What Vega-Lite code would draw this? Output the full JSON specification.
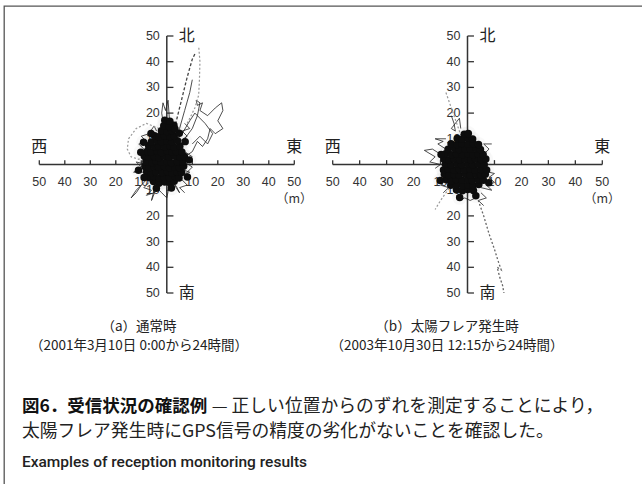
{
  "$schema": "https://vega.github.io/schema/vega-lite/v6.json",
  "width": 642,
  "height": 484,
  "autosize": {"type": "fit", "contains": "padding"},
  "padding": {"left": 4, "top": 6, "right": -4, "bottom": -4},
  "background": "white",
  "config": {"view": {"stroke": "#555", "strokeWidth": 1.3}, "text": {"font": "Liberation Sans"}},
  "datasets": {
    "pts": [
      {"p":"a","x":-5.2,"y":-6.6},{"p":"a","x":-3.1,"y":-7.3},{"p":"a","x":-0.8,"y":-6.8},{"p":"a","x":1.3,"y":-7.2},{"p":"a","x":2.9,"y":-6.5},
      {"p":"a","x":-6.8,"y":-5.2},{"p":"a","x":-5.1,"y":-4.7},{"p":"a","x":-2.9,"y":-5.3},{"p":"a","x":-1.2,"y":-4.8},{"p":"a","x":0.9,"y":-5.1},{"p":"a","x":3.2,"y":-4.7},{"p":"a","x":4.8,"y":-5.3},
      {"p":"a","x":-7.9,"y":-2.8},{"p":"a","x":-6.1,"y":-3.2},{"p":"a","x":-4.2,"y":-2.9},{"p":"a","x":-1.8,"y":-3.1},{"p":"a","x":0.2,"y":-2.7},{"p":"a","x":2.1,"y":-3.3},{"p":"a","x":3.9,"y":-2.8},{"p":"a","x":5.8,"y":-3.1},
      {"p":"a","x":-8.6,"y":-0.8},{"p":"a","x":-6.8,"y":-1.2},{"p":"a","x":-5.1,"y":-0.7},{"p":"a","x":-3.2,"y":-1.1},{"p":"a","x":-0.9,"y":-0.8},{"p":"a","x":1.1,"y":-1.3},{"p":"a","x":3.2,"y":-0.9},{"p":"a","x":4.9,"y":-1.2},{"p":"a","x":6.6,"y":-0.7},
      {"p":"a","x":-8.2,"y":1.1},{"p":"a","x":-5.9,"y":0.8},{"p":"a","x":-4.1,"y":1.3},{"p":"a","x":-2.2,"y":0.9},{"p":"a","x":0.1,"y":1.2},{"p":"a","x":1.8,"y":0.7},{"p":"a","x":4.2,"y":1.1},{"p":"a","x":6.3,"y":0.9},
      {"p":"a","x":-8.8,"y":3.2},{"p":"a","x":-7.1,"y":2.8},{"p":"a","x":-4.9,"y":3.1},{"p":"a","x":-3.1,"y":2.7},{"p":"a","x":-1.1,"y":3.3},{"p":"a","x":0.9,"y":2.9},{"p":"a","x":3.1,"y":3.2},{"p":"a","x":5.2,"y":2.8},{"p":"a","x":6.9,"y":3.1},
      {"p":"a","x":-7.8,"y":5.1},{"p":"a","x":-6.2,"y":4.8},{"p":"a","x":-3.9,"y":5.3},{"p":"a","x":-2.1,"y":4.7},{"p":"a","x":0.2,"y":5.2},{"p":"a","x":2.1,"y":4.8},{"p":"a","x":3.8,"y":5.1},{"p":"a","x":5.9,"y":4.9},
      {"p":"a","x":-7.1,"y":7.2},{"p":"a","x":-4.8,"y":6.8},{"p":"a","x":-3.2,"y":7.1},{"p":"a","x":-0.9,"y":6.9},{"p":"a","x":1.2,"y":7.3},{"p":"a","x":2.8,"y":6.8},{"p":"a","x":5.1,"y":7.1},
      {"p":"a","x":-6.1,"y":8.8},{"p":"a","x":-3.8,"y":9.2},{"p":"a","x":-2.1,"y":8.9},{"p":"a","x":0.1,"y":9.1},{"p":"a","x":1.9,"y":8.8},{"p":"a","x":4.2,"y":9.2},
      {"p":"a","x":-4.8,"y":11.2},{"p":"a","x":-3.1,"y":10.8},{"p":"a","x":-0.9,"y":11.1},{"p":"a","x":1.2,"y":10.9},{"p":"a","x":2.9,"y":11.2},
      {"p":"a","x":-2.1,"y":13.1},{"p":"a","x":0.1,"y":12.8},{"p":"a","x":1.9,"y":13.2},
      {"p":"a","x":-1.2,"y":15.1},{"p":"a","x":0.9,"y":14.8},{"p":"a","x":2.8,"y":15.3},
      {"p":"a","x":-0.8,"y":17.2},{"p":"a","x":1.2,"y":16.8},
      {"p":"a","x":-10.2,"y":4.8},{"p":"a","x":-11.1,"y":-2.2},{"p":"a","x":8.1,"y":-4.9},{"p":"a","x":8.8,"y":1.8},{"p":"a","x":7.2,"y":8.9},{"p":"a","x":-9.1,"y":8.7},{"p":"a","x":-6.2,"y":12.1},{"p":"a","x":4.9,"y":12.2},{"p":"a","x":-4.1,"y":-9.2},{"p":"a","x":1.8,"y":-9.1},{"p":"a","x":3.2,"y":13.8},{"p":"a","x":-8.9,"y":-5.1},

      {"p":"b","x":-4.1,"y":-9.8},{"p":"b","x":-1.9,"y":-10.2},{"p":"b","x":0.1,"y":-9.7},{"p":"b","x":2.2,"y":-10.1},
      {"p":"b","x":-6.2,"y":-8.1},{"p":"b","x":-4.1,"y":-7.8},{"p":"b","x":-1.8,"y":-8.2},{"p":"b","x":0.2,"y":-7.9},{"p":"b","x":2.1,"y":-8.2},{"p":"b","x":4.2,"y":-7.8},
      {"p":"b","x":-7.8,"y":-5.9},{"p":"b","x":-5.9,"y":-6.2},{"p":"b","x":-4.2,"y":-5.8},{"p":"b","x":-2.1,"y":-6.1},{"p":"b","x":0.1,"y":-5.8},{"p":"b","x":1.8,"y":-6.2},{"p":"b","x":4.1,"y":-5.9},{"p":"b","x":5.9,"y":-6.1},
      {"p":"b","x":-8.6,"y":-3.8},{"p":"b","x":-6.9,"y":-4.2},{"p":"b","x":-5.1,"y":-3.9},{"p":"b","x":-3.2,"y":-4.1},{"p":"b","x":-0.8,"y":-3.8},{"p":"b","x":1.1,"y":-4.2},{"p":"b","x":3.2,"y":-3.9},{"p":"b","x":4.9,"y":-4.1},{"p":"b","x":6.6,"y":-3.8},
      {"p":"b","x":-8.9,"y":-2.1},{"p":"b","x":-7.2,"y":-1.8},{"p":"b","x":-4.9,"y":-2.2},{"p":"b","x":-3.1,"y":-1.9},{"p":"b","x":-1.2,"y":-2.1},{"p":"b","x":0.9,"y":-1.8},{"p":"b","x":2.8,"y":-2.2},{"p":"b","x":5.1,"y":-1.9},{"p":"b","x":7.1,"y":-2.1},
      {"p":"b","x":-8.2,"y":0.1},{"p":"b","x":-6.1,"y":-0.2},{"p":"b","x":-3.9,"y":0.2},{"p":"b","x":-2.2,"y":-0.1},{"p":"b","x":0.1,"y":0.2},{"p":"b","x":1.9,"y":-0.2},{"p":"b","x":4.1,"y":0.1},{"p":"b","x":6.2,"y":-0.1},
      {"p":"b","x":-8.8,"y":2.1},{"p":"b","x":-6.9,"y":1.8},{"p":"b","x":-5.1,"y":2.2},{"p":"b","x":-2.9,"y":1.9},{"p":"b","x":-0.9,"y":2.1},{"p":"b","x":1.2,"y":1.8},{"p":"b","x":2.9,"y":2.2},{"p":"b","x":5.1,"y":1.9},{"p":"b","x":6.8,"y":2.1},
      {"p":"b","x":-8.1,"y":4.2},{"p":"b","x":-5.9,"y":3.8},{"p":"b","x":-4.1,"y":4.1},{"p":"b","x":-1.8,"y":3.9},{"p":"b","x":0.2,"y":4.2},{"p":"b","x":2.1,"y":3.8},{"p":"b","x":3.9,"y":4.1},{"p":"b","x":5.8,"y":3.9},
      {"p":"b","x":-7.2,"y":5.9},{"p":"b","x":-4.8,"y":6.2},{"p":"b","x":-3.1,"y":5.8},{"p":"b","x":-0.9,"y":6.1},{"p":"b","x":1.1,"y":5.9},{"p":"b","x":3.2,"y":6.2},{"p":"b","x":4.8,"y":5.8},
      {"p":"b","x":-6.1,"y":8.1},{"p":"b","x":-3.9,"y":7.8},{"p":"b","x":-2.1,"y":8.2},{"p":"b","x":0.1,"y":7.9},{"p":"b","x":2.2,"y":8.1},{"p":"b","x":4.1,"y":7.8},
      {"p":"b","x":-3.8,"y":10.1},{"p":"b","x":-1.9,"y":9.8},{"p":"b","x":0.2,"y":10.2},{"p":"b","x":1.9,"y":9.9},
      {"p":"b","x":-1.2,"y":11.8},{"p":"b","x":0.3,"y":12.1},
      {"p":"b","x":-10.1,"y":-6.2},{"p":"b","x":7.9,"y":-7.1},{"p":"b","x":-2.9,"y":-12.8},{"p":"b","x":3.1,"y":-12.2},{"p":"b","x":-9.8,"y":3.9}
    ],
    "trk": [
      {"p":"a","g":"a1","o":1,"x":2,"y":10},{"p":"a","g":"a1","o":2,"x":4,"y":18},{"p":"a","g":"a1","o":3,"x":6,"y":26},{"p":"a","g":"a1","o":4,"x":8,"y":34},{"p":"a","g":"a1","o":5,"x":10,"y":41},{"p":"a","g":"a1","o":6,"x":11,"y":43},
      {"p":"a","g":"a2","o":1,"x":8,"y":16},{"p":"a","g":"a2","o":2,"x":11,"y":22},{"p":"a","g":"a2","o":3,"x":12.5,"y":27},{"p":"a","g":"a2","o":4,"x":12.8,"y":33},{"p":"a","g":"a2","o":5,"x":13,"y":40},{"p":"a","g":"a2","o":6,"x":12.5,"y":46},
      {"p":"a","g":"a3","o":1,"x":3,"y":8},{"p":"a","g":"a3","o":2,"x":5,"y":14},{"p":"a","g":"a3","o":3,"x":7,"y":21},{"p":"a","g":"a3","o":4,"x":9,"y":28},{"p":"a","g":"a3","o":5,"x":10,"y":33},
      {"p":"a","g":"a4","o":1,"x":4,"y":6},{"p":"a","g":"a4","o":2,"x":7,"y":10},{"p":"a","g":"a4","o":3,"x":10,"y":14},{"p":"a","g":"a4","o":4,"x":12,"y":19},{"p":"a","g":"a4","o":5,"x":13,"y":24},{"p":"a","g":"a4","o":6,"x":11.5,"y":25},{"p":"a","g":"a4","o":7,"x":12,"y":23},{"p":"a","g":"a4","o":8,"x":14,"y":24},{"p":"a","g":"a4","o":9,"x":13,"y":21},{"p":"a","g":"a4","o":10,"x":16,"y":19},{"p":"a","g":"a4","o":11,"x":19,"y":22},{"p":"a","g":"a4","o":12,"x":21.5,"y":24},{"p":"a","g":"a4","o":13,"x":22,"y":21},{"p":"a","g":"a4","o":14,"x":20,"y":17},{"p":"a","g":"a4","o":15,"x":22,"y":14},{"p":"a","g":"a4","o":16,"x":19,"y":12},{"p":"a","g":"a4","o":17,"x":17,"y":14},{"p":"a","g":"a4","o":18,"x":16,"y":10},{"p":"a","g":"a4","o":19,"x":14,"y":7},{"p":"a","g":"a4","o":20,"x":12,"y":9},{"p":"a","g":"a4","o":21,"x":10,"y":5},{"p":"a","g":"a4","o":22,"x":7,"y":3},
      {"p":"a","g":"a5","o":1,"x":6,"y":12},{"p":"a","g":"a5","o":2,"x":9,"y":17},{"p":"a","g":"a5","o":3,"x":11,"y":20},{"p":"a","g":"a5","o":4,"x":15,"y":16},{"p":"a","g":"a5","o":5,"x":18,"y":12},{"p":"a","g":"a5","o":6,"x":16,"y":8},{"p":"a","g":"a5","o":7,"x":13,"y":11},{"p":"a","g":"a5","o":8,"x":10,"y":8},
      {"p":"a","g":"a6","o":1,"x":-3,"y":14},{"p":"a","g":"a6","o":2,"x":-8,"y":16},{"p":"a","g":"a6","o":3,"x":-12,"y":14},{"p":"a","g":"a6","o":4,"x":-15,"y":10},{"p":"a","g":"a6","o":5,"x":-15.5,"y":6},{"p":"a","g":"a6","o":6,"x":-14,"y":3},{"p":"a","g":"a6","o":7,"x":-11,"y":2},{"p":"a","g":"a6","o":8,"x":-8,"y":4},
      {"p":"a","g":"a7","o":1,"x":-1,"y":14},{"p":"a","g":"a7","o":2,"x":-2,"y":20},{"p":"a","g":"a7","o":3,"x":-1.5,"y":24},{"p":"a","g":"a7","o":4,"x":-0.5,"y":21},{"p":"a","g":"a7","o":5,"x":0.5,"y":25},{"p":"a","g":"a7","o":6,"x":1,"y":18},
      {"p":"a","g":"a8","o":1,"x":-6,"y":-4},{"p":"a","g":"a8","o":2,"x":-9,"y":-7},{"p":"a","g":"a8","o":3,"x":-12,"y":-10},{"p":"a","g":"a8","o":4,"x":-14,"y":-13},{"p":"a","g":"a8","o":5,"x":-12,"y":-11},{"p":"a","g":"a8","o":6,"x":-10,"y":-8},
      {"p":"a","g":"a9","o":1,"x":-3,"y":-6},{"p":"a","g":"a9","o":2,"x":-5,"y":-10},{"p":"a","g":"a9","o":3,"x":-6,"y":-14},{"p":"a","g":"a9","o":4,"x":-4,"y":-9},{"p":"a","g":"a9","o":5,"x":-2,"y":-11},{"p":"a","g":"a9","o":6,"x":0,"y":-13},{"p":"a","g":"a9","o":7,"x":1,"y":-8},
      {"p":"a","g":"a10","o":1,"x":2,"y":-6},{"p":"a","g":"a10","o":2,"x":4,"y":-9},{"p":"a","g":"a10","o":3,"x":5,"y":-11},{"p":"a","g":"a10","o":4,"x":3,"y":-8},
      {"p":"a","g":"a11","o":1,"x":-8,"y":0},{"p":"a","g":"a11","o":2,"x":-12,"y":1},{"p":"a","g":"a11","o":3,"x":-10,"y":-1},{"p":"a","g":"a11","o":4,"x":-13,"y":-3},{"p":"a","g":"a11","o":5,"x":-9,"y":-3},
      {"p":"a","g":"a12","o":1,"x":6,"y":-2},{"p":"a","g":"a12","o":2,"x":9,"y":-3},{"p":"a","g":"a12","o":3,"x":7,"y":-4},{"p":"a","g":"a12","o":4,"x":10,"y":-1},{"p":"a","g":"a12","o":5,"x":7,"y":1},{"p":"a","g":"a12","o":6,"x":10,"y":3},{"p":"a","g":"a12","o":7,"x":7,"y":5},
      {"p":"a","g":"a13","o":1,"x":-9,"y":6},{"p":"a","g":"a13","o":2,"x":-11,"y":8},{"p":"a","g":"a13","o":3,"x":-8,"y":9},{"p":"a","g":"a13","o":4,"x":-10,"y":11},{"p":"a","g":"a13","o":5,"x":-7,"y":12},{"p":"a","g":"a13","o":6,"x":-5,"y":15},{"p":"a","g":"a13","o":7,"x":-4,"y":13},
      {"p":"a","g":"a14","o":1,"x":5,"y":9},{"p":"a","g":"a14","o":2,"x":8,"y":11},{"p":"a","g":"a14","o":3,"x":6,"y":13},{"p":"a","g":"a14","o":4,"x":9,"y":14},{"p":"a","g":"a14","o":5,"x":7,"y":16},
      {"p":"a","g":"a15","o":1,"x":-7,"y":-7},{"p":"a","g":"a15","o":2,"x":-9,"y":-9},{"p":"a","g":"a15","o":3,"x":-6,"y":-10},{"p":"a","g":"a15","o":4,"x":-8,"y":-12},{"p":"a","g":"a15","o":5,"x":-5,"y":-11},
      {"p":"a","g":"a16","o":1,"x":6,"y":-6},{"p":"a","g":"a16","o":2,"x":8,"y":-8},{"p":"a","g":"a16","o":3,"x":5,"y":-9},{"p":"a","g":"a16","o":4,"x":7,"y":-11},

      {"p":"b","g":"b1","o":1,"x":-8,"y":28},{"p":"b","g":"b1","o":2,"x":-7,"y":25},{"p":"b","g":"b1","o":3,"x":-6,"y":22},{"p":"b","g":"b1","o":4,"x":-5,"y":19},{"p":"b","g":"b1","o":5,"x":-4,"y":16},{"p":"b","g":"b1","o":6,"x":-3,"y":13},{"p":"b","g":"b1","o":7,"x":-2,"y":10},
      {"p":"b","g":"b2","o":1,"x":-6,"y":19},{"p":"b","g":"b2","o":2,"x":-5,"y":16},{"p":"b","g":"b2","o":3,"x":-4.5,"y":13},{"p":"b","g":"b2","o":4,"x":-6,"y":14},{"p":"b","g":"b2","o":5,"x":-3,"y":18},{"p":"b","g":"b2","o":6,"x":-2.5,"y":14},
      {"p":"b","g":"b3","o":1,"x":2,"y":-8},{"p":"b","g":"b3","o":2,"x":4,"y":-14},{"p":"b","g":"b3","o":3,"x":6,"y":-20},{"p":"b","g":"b3","o":4,"x":8,"y":-27},{"p":"b","g":"b3","o":5,"x":10,"y":-33},{"p":"b","g":"b3","o":6,"x":11.5,"y":-38},{"p":"b","g":"b3","o":7,"x":12.5,"y":-41},{"p":"b","g":"b3","o":8,"x":11,"y":-40},{"p":"b","g":"b3","o":9,"x":12,"y":-44},{"p":"b","g":"b3","o":10,"x":13,"y":-47},{"p":"b","g":"b3","o":11,"x":13.5,"y":-50},
      {"p":"b","g":"b4","o":1,"x":-7,"y":2},{"p":"b","g":"b4","o":2,"x":-10,"y":4},{"p":"b","g":"b4","o":3,"x":-13,"y":6},{"p":"b","g":"b4","o":4,"x":-16,"y":5.5},{"p":"b","g":"b4","o":5,"x":-12,"y":3},{"p":"b","g":"b4","o":6,"x":-14,"y":1},{"p":"b","g":"b4","o":7,"x":-10,"y":0},{"p":"b","g":"b4","o":8,"x":-12,"y":-1.5},
      {"p":"b","g":"b5","o":1,"x":-6,"y":-8},{"p":"b","g":"b5","o":2,"x":-8,"y":-11},{"p":"b","g":"b5","o":3,"x":-10,"y":-14},{"p":"b","g":"b5","o":4,"x":-12,"y":-17.5},
      {"p":"b","g":"b6","o":1,"x":5,"y":-4},{"p":"b","g":"b6","o":2,"x":8,"y":-3},{"p":"b","g":"b6","o":3,"x":10,"y":-3.5},{"p":"b","g":"b6","o":4,"x":8,"y":-5},{"p":"b","g":"b6","o":5,"x":10,"y":-7},{"p":"b","g":"b6","o":6,"x":7,"y":-8},{"p":"b","g":"b6","o":7,"x":9,"y":-10},{"p":"b","g":"b6","o":8,"x":5,"y":-9},
      {"p":"b","g":"b7","o":1,"x":2,"y":-10},{"p":"b","g":"b7","o":2,"x":3,"y":-13},{"p":"b","g":"b7","o":3,"x":1,"y":-14},{"p":"b","g":"b7","o":4,"x":-1,"y":-13},{"p":"b","g":"b7","o":5,"x":-3,"y":-14},{"p":"b","g":"b7","o":6,"x":-4,"y":-12},
      {"p":"b","g":"b8","o":1,"x":-8,"y":6},{"p":"b","g":"b8","o":2,"x":-11,"y":8},{"p":"b","g":"b8","o":3,"x":-9,"y":9},{"p":"b","g":"b8","o":4,"x":-12,"y":10},{"p":"b","g":"b8","o":5,"x":-8,"y":10},
      {"p":"b","g":"b9","o":1,"x":6,"y":4},{"p":"b","g":"b9","o":2,"x":8,"y":6},{"p":"b","g":"b9","o":3,"x":6,"y":8},{"p":"b","g":"b9","o":4,"x":9,"y":8},
      {"p":"b","g":"b10","o":1,"x":-8,"y":-6},{"p":"b","g":"b10","o":2,"x":-10,"y":-8},{"p":"b","g":"b10","o":3,"x":-7,"y":-9},{"p":"b","g":"b10","o":4,"x":-9,"y":-11},
      {"p":"b","g":"b11","o":1,"x":5,"y":-11},{"p":"b","g":"b11","o":2,"x":7,"y":-13},{"p":"b","g":"b11","o":3,"x":4,"y":-14},{"p":"b","g":"b11","o":4,"x":6,"y":-16}
    ],
    "ticks": [
      {"v":-50,"lab":"50"},{"v":-40,"lab":"40"},{"v":-30,"lab":"30"},{"v":-20,"lab":"20"},{"v":-10,"lab":"10"},
      {"v":10,"lab":"10"},{"v":20,"lab":"20"},{"v":30,"lab":"30"},{"v":40,"lab":"40"},{"v":50,"lab":"50"}
    ],
    "caps": [
      {"p":"a","x":-10.9,"y":-63.2,"t":"（a）通常時"},
      {"p":"a","x":-10.9,"y":-70.6,"t":"（2001年3月10日 0:00から24時間）"},
      {"p":"b","x":-7.6,"y":-63.2,"t":"（b）太陽フレア発生時"},
      {"p":"b","x":-7.6,"y":-70.6,"t":"（2003年10月30日 12:15から24時間）"}
    ],
    "fig": [
      {"k":"bold","x":-56.8,"y":-94.4,"t":"図6．受信状況の確認例"},
      {"k":"norm","x":17.6,"y":-94.4,"t":"— 正しい位置からのずれを測定することにより，"},
      {"k":"norm","x":-56.8,"y":-104.1,"t":"太陽フレア発生時にGPS信号の精度の劣化がないことを確認した。"},
      {"k":"eng","x":-56.8,"y":-115.8,"t":"Examples of reception monitoring results"}
    ]
  },
  "layer": [
    {
      "encoding": {
        "x": {"type": "quantitative", "scale": {"domain": [-50, 50], "range": [35.3, 290.3]}, "axis": null},
        "y": {"type": "quantitative", "scale": {"domain": [-50, 50], "range": [287, 30]}, "axis": null}
      },
      "layer": [
        {
          "data": {"name": "pts"},
          "transform": [{"filter": "datum.p == 'a'"}],
          "mark": {"type": "circle", "size": 220, "color": "#999", "opacity": 0.06},
          "encoding": {"x": {"field": "x"}, "y": {"field": "y"}}
        },
        {
          "data": {"values": [{}]},
          "mark": {"type": "rule", "stroke": "#333", "strokeWidth": 1.5},
          "encoding": {"x": {"datum": -50}, "x2": {"datum": 50}, "y": {"datum": 0}}
        },
        {
          "data": {"values": [{}]},
          "mark": {"type": "rule", "stroke": "#333", "strokeWidth": 1.5},
          "encoding": {"y": {"datum": -50}, "y2": {"datum": 50}, "x": {"datum": 0}}
        },
        {
          "data": {"name": "ticks"},
          "mark": {"type": "rule", "stroke": "#333", "strokeWidth": 1.3},
          "encoding": {"x": {"field": "v"}, "y": {"datum": 0}, "y2": {"datum": 1.7}}
        },
        {
          "data": {"name": "ticks"},
          "mark": {"type": "rule", "stroke": "#333", "strokeWidth": 1.3},
          "encoding": {"y": {"field": "v"}, "x": {"datum": 0}, "x2": {"datum": 2.6}}
        },
        {
          "data": {"name": "ticks"},
          "mark": {"type": "text", "fontSize": 12.5, "fill": "#333", "dy": 17, "baseline": "middle"},
          "encoding": {"x": {"field": "v"}, "y": {"datum": 0}, "text": {"field": "lab"}}
        },
        {
          "data": {"name": "ticks"},
          "mark": {"type": "text", "fontSize": 12.5, "fill": "#333", "dx": -7, "align": "right", "baseline": "middle"},
          "encoding": {"y": {"field": "v"}, "x": {"datum": 0}, "text": {"field": "lab"}}
        },
        {
          "data": {"name": "trk"},
          "transform": [{"filter": "datum.p == 'a' && indexof(['a1','a2','a6'], datum.g) < 0"}],
          "mark": {"type": "line", "stroke": "#222", "strokeWidth": 1, "opacity": 0.8},
          "encoding": {"x": {"field": "x"}, "y": {"field": "y"}, "detail": {"field": "g"}, "order": {"field": "o"}}
        },
        {
          "data": {"name": "trk"},
          "transform": [{"filter": "datum.g == 'a1'"}],
          "mark": {"type": "line", "stroke": "#444", "strokeWidth": 1.3, "strokeDash": [3, 2]},
          "encoding": {"x": {"field": "x"}, "y": {"field": "y"}, "detail": {"field": "g"}, "order": {"field": "o"}}
        },
        {
          "data": {"name": "trk"},
          "transform": [{"filter": "datum.g == 'a2' || datum.g == 'a6'"}],
          "mark": {"type": "line", "stroke": "#999", "strokeWidth": 1.2, "strokeDash": [2, 2]},
          "encoding": {"x": {"field": "x"}, "y": {"field": "y"}, "detail": {"field": "g"}, "order": {"field": "o"}}
        },
        {
          "data": {"name": "pts"},
          "transform": [{"filter": "datum.p == 'a'"}],
          "mark": {"type": "circle", "size": 56, "color": "#0d0d0d", "opacity": 1},
          "encoding": {"x": {"field": "x"}, "y": {"field": "y"}}
        },
        {
          "data": {"values": [{"y": 50, "t": "北"}, {"y": -50, "t": "南"}]},
          "mark": {"type": "text", "font": "Noto Sans CJK JP", "fontSize": 16, "fill": "#222", "align": "left", "dx": 12, "baseline": "middle"},
          "encoding": {"y": {"field": "y"}, "x": {"datum": 0}, "text": {"field": "t"}}
        },
        {
          "data": {"values": [{"x": -50, "t": "西"}, {"x": 50, "t": "東"}]},
          "mark": {"type": "text", "font": "Noto Sans CJK JP", "fontSize": 16, "fill": "#222", "align": "center", "dy": -18, "baseline": "middle"},
          "encoding": {"x": {"field": "x"}, "y": {"datum": 0}, "text": {"field": "t"}}
        },
        {
          "data": {"values": [{"x": 50, "t": "（m）"}]},
          "mark": {"type": "text", "font": "Noto Sans CJK JP", "fontSize": 12.5, "fill": "#333", "align": "center", "dy": 34, "baseline": "middle"},
          "encoding": {"x": {"field": "x"}, "y": {"datum": 0}, "text": {"field": "t"}}
        },
        {
          "data": {"name": "caps"},
          "transform": [{"filter": "datum.p == 'a'"}],
          "mark": {"type": "text", "font": "Noto Sans CJK JP", "fontSize": 13.5, "fill": "#222", "align": "center", "baseline": "middle"},
          "encoding": {"x": {"field": "x"}, "y": {"field": "y"}, "text": {"field": "t"}}
        },
        {
          "data": {"name": "fig"},
          "transform": [{"filter": "datum.k == 'bold'"}],
          "mark": {"type": "text", "font": "Noto Sans CJK JP", "fontSize": 17.5, "fontWeight": "bold", "fill": "#111", "align": "left", "baseline": "middle"},
          "encoding": {"x": {"field": "x"}, "y": {"field": "y"}, "text": {"field": "t"}}
        },
        {
          "data": {"name": "fig"},
          "transform": [{"filter": "datum.k == 'norm'"}],
          "mark": {"type": "text", "font": "Noto Sans CJK JP", "fontSize": 17.8, "fill": "#222", "align": "left", "baseline": "middle"},
          "encoding": {"x": {"field": "x"}, "y": {"field": "y"}, "text": {"field": "t"}}
        },
        {
          "data": {"name": "fig"},
          "transform": [{"filter": "datum.k == 'eng'"}],
          "mark": {"type": "text", "font": "Roboto", "fontSize": 15.5, "fontWeight": 500, "fill": "#222", "align": "left", "baseline": "middle"},
          "encoding": {"x": {"field": "x"}, "y": {"field": "y"}, "text": {"field": "t"}}
        }
      ]
    },
    {
      "encoding": {
        "x": {"type": "quantitative", "scale": {"domain": [-50, 50], "range": [328.7, 598.3]}, "axis": null},
        "y": {"type": "quantitative", "scale": {"domain": [-50, 50], "range": [287, 30]}, "axis": null}
      },
      "layer": [
        {
          "data": {"name": "pts"},
          "transform": [{"filter": "datum.p == 'b'"}],
          "mark": {"type": "circle", "size": 220, "color": "#999", "opacity": 0.06},
          "encoding": {"x": {"field": "x"}, "y": {"field": "y"}}
        },
        {
          "data": {"values": [{}]},
          "mark": {"type": "rule", "stroke": "#333", "strokeWidth": 1.5},
          "encoding": {"x": {"datum": -50}, "x2": {"datum": 50}, "y": {"datum": 0}}
        },
        {
          "data": {"values": [{}]},
          "mark": {"type": "rule", "stroke": "#333", "strokeWidth": 1.5},
          "encoding": {"y": {"datum": -50}, "y2": {"datum": 50}, "x": {"datum": 0}}
        },
        {
          "data": {"name": "ticks"},
          "mark": {"type": "rule", "stroke": "#333", "strokeWidth": 1.3},
          "encoding": {"x": {"field": "v"}, "y": {"datum": 0}, "y2": {"datum": 1.7}}
        },
        {
          "data": {"name": "ticks"},
          "mark": {"type": "rule", "stroke": "#333", "strokeWidth": 1.3},
          "encoding": {"y": {"field": "v"}, "x": {"datum": 0}, "x2": {"datum": 2.4}}
        },
        {
          "data": {"name": "ticks"},
          "mark": {"type": "text", "fontSize": 12.5, "fill": "#333", "dy": 17, "baseline": "middle"},
          "encoding": {"x": {"field": "v"}, "y": {"datum": 0}, "text": {"field": "lab"}}
        },
        {
          "data": {"name": "ticks"},
          "mark": {"type": "text", "fontSize": 12.5, "fill": "#333", "dx": -7, "align": "right", "baseline": "middle"},
          "encoding": {"y": {"field": "v"}, "x": {"datum": 0}, "text": {"field": "lab"}}
        },
        {
          "data": {"name": "trk"},
          "transform": [{"filter": "datum.p == 'b' && indexof(['b1','b3','b5'], datum.g) < 0"}],
          "mark": {"type": "line", "stroke": "#222", "strokeWidth": 1, "opacity": 0.8},
          "encoding": {"x": {"field": "x"}, "y": {"field": "y"}, "detail": {"field": "g"}, "order": {"field": "o"}}
        },
        {
          "data": {"name": "trk"},
          "transform": [{"filter": "datum.g == 'b3'"}],
          "mark": {"type": "line", "stroke": "#666", "strokeWidth": 1.3, "strokeDash": [2, 2]},
          "encoding": {"x": {"field": "x"}, "y": {"field": "y"}, "detail": {"field": "g"}, "order": {"field": "o"}}
        },
        {
          "data": {"name": "trk"},
          "transform": [{"filter": "datum.g == 'b1' || datum.g == 'b5'"}],
          "mark": {"type": "line", "stroke": "#999", "strokeWidth": 1.2, "strokeDash": [2, 2]},
          "encoding": {"x": {"field": "x"}, "y": {"field": "y"}, "detail": {"field": "g"}, "order": {"field": "o"}}
        },
        {
          "data": {"name": "pts"},
          "transform": [{"filter": "datum.p == 'b'"}],
          "mark": {"type": "circle", "size": 56, "color": "#0d0d0d", "opacity": 1},
          "encoding": {"x": {"field": "x"}, "y": {"field": "y"}}
        },
        {
          "data": {"values": [{"y": 50, "t": "北"}, {"y": -50, "t": "南"}]},
          "mark": {"type": "text", "font": "Noto Sans CJK JP", "fontSize": 16, "fill": "#222", "align": "left", "dx": 12, "baseline": "middle"},
          "encoding": {"y": {"field": "y"}, "x": {"datum": 0}, "text": {"field": "t"}}
        },
        {
          "data": {"values": [{"x": -50, "t": "西"}, {"x": 50, "t": "東"}]},
          "mark": {"type": "text", "font": "Noto Sans CJK JP", "fontSize": 16, "fill": "#222", "align": "center", "dy": -18, "baseline": "middle"},
          "encoding": {"x": {"field": "x"}, "y": {"datum": 0}, "text": {"field": "t"}}
        },
        {
          "data": {"values": [{"x": 50, "t": "（m）"}]},
          "mark": {"type": "text", "font": "Noto Sans CJK JP", "fontSize": 12.5, "fill": "#333", "align": "center", "dy": 34, "baseline": "middle"},
          "encoding": {"x": {"field": "x"}, "y": {"datum": 0}, "text": {"field": "t"}}
        },
        {
          "data": {"name": "caps"},
          "transform": [{"filter": "datum.p == 'b'"}],
          "mark": {"type": "text", "font": "Noto Sans CJK JP", "fontSize": 13.5, "fill": "#222", "align": "center", "baseline": "middle"},
          "encoding": {"x": {"field": "x"}, "y": {"field": "y"}, "text": {"field": "t"}}
        }
      ]
    }
  ],
  "resolve": {"scale": {"x": "independent", "y": "independent"}}
}
